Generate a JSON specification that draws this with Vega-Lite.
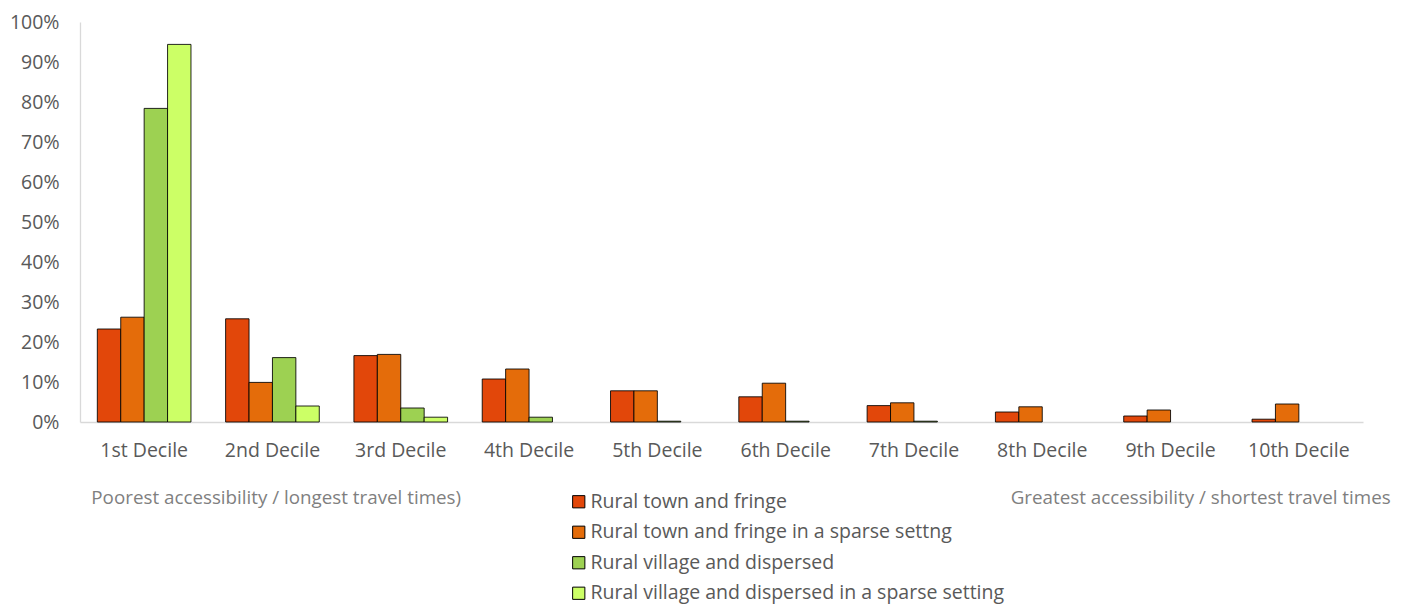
{
  "$schema": "https://vega.github.io/schema/vega-lite/v6.json",
  "width": 1283,
  "height": 400,
  "autosize": {"type": "none"},
  "padding": {"left": 80, "top": 22, "right": 44, "bottom": 183},
  "background": "#ffffff",
  "config": {
    "view": {"stroke": null},
    "font": "Open Sans",
    "axis": {"labelFont": "Open Sans", "labelColor": "#595959", "grid": false, "ticks": false, "tickSize": 0, "domainColor": "#D9D9D9", "domainWidth": 1.3, "title": null, "labelOverlap": false}
  },
  "encoding": {
    "x": {
      "field": "decile", "type": "nominal",
      "scale": {"domain": ["1st Decile", "2nd Decile", "3rd Decile", "4th Decile", "5th Decile", "6th Decile", "7th Decile", "8th Decile", "9th Decile", "10th Decile"], "paddingInner": 0.27, "paddingOuter": 0.135},
      "axis": {"labelAngle": 0, "labelPadding": 19, "labelFontSize": 19.5, "labelOverlap": false}
    }
  },
  "layer": [
    {
      "data": {
        "values": [
          {"decile": "1st Decile", "type": "Rural town and fringe", "share": 0.2325},
          {"decile": "1st Decile", "type": "Rural town and fringe in a sparse settng", "share": 0.262},
          {"decile": "1st Decile", "type": "Rural village and dispersed", "share": 0.784},
          {"decile": "1st Decile", "type": "Rural village and dispersed in a sparse setting", "share": 0.944},
          {"decile": "2nd Decile", "type": "Rural town and fringe", "share": 0.258},
          {"decile": "2nd Decile", "type": "Rural town and fringe in a sparse settng", "share": 0.099},
          {"decile": "2nd Decile", "type": "Rural village and dispersed", "share": 0.161},
          {"decile": "2nd Decile", "type": "Rural village and dispersed in a sparse setting", "share": 0.04},
          {"decile": "3rd Decile", "type": "Rural town and fringe", "share": 0.166},
          {"decile": "3rd Decile", "type": "Rural town and fringe in a sparse settng", "share": 0.169},
          {"decile": "3rd Decile", "type": "Rural village and dispersed", "share": 0.035},
          {"decile": "3rd Decile", "type": "Rural village and dispersed in a sparse setting", "share": 0.012},
          {"decile": "4th Decile", "type": "Rural town and fringe", "share": 0.1075},
          {"decile": "4th Decile", "type": "Rural town and fringe in a sparse settng", "share": 0.1325},
          {"decile": "4th Decile", "type": "Rural village and dispersed", "share": 0.012},
          {"decile": "5th Decile", "type": "Rural town and fringe", "share": 0.078},
          {"decile": "5th Decile", "type": "Rural town and fringe in a sparse settng", "share": 0.078},
          {"decile": "5th Decile", "type": "Rural village and dispersed", "share": 0.002},
          {"decile": "6th Decile", "type": "Rural town and fringe", "share": 0.063},
          {"decile": "6th Decile", "type": "Rural town and fringe in a sparse settng", "share": 0.097},
          {"decile": "6th Decile", "type": "Rural village and dispersed", "share": 0.002},
          {"decile": "7th Decile", "type": "Rural town and fringe", "share": 0.041},
          {"decile": "7th Decile", "type": "Rural town and fringe in a sparse settng", "share": 0.048},
          {"decile": "7th Decile", "type": "Rural village and dispersed", "share": 0.002},
          {"decile": "8th Decile", "type": "Rural town and fringe", "share": 0.025},
          {"decile": "8th Decile", "type": "Rural town and fringe in a sparse settng", "share": 0.038},
          {"decile": "9th Decile", "type": "Rural town and fringe", "share": 0.015},
          {"decile": "9th Decile", "type": "Rural town and fringe in a sparse settng", "share": 0.03},
          {"decile": "10th Decile", "type": "Rural town and fringe", "share": 0.007},
          {"decile": "10th Decile", "type": "Rural town and fringe in a sparse settng", "share": 0.045}
        ]
      },
      "mark": {"type": "bar", "stroke": "#000000", "strokeWidth": 1, "strokeOpacity": 0.85},
      "encoding": {
        "xOffset": {
          "field": "type", "type": "nominal",
          "scale": {"domain": ["Rural town and fringe", "Rural town and fringe in a sparse settng", "Rural village and dispersed", "Rural village and dispersed in a sparse setting"], "paddingInner": 0, "paddingOuter": 0}
        },
        "y": {
          "field": "share", "type": "quantitative",
          "scale": {"domain": [0, 1], "nice": false},
          "axis": {"values": [0, 0.1, 0.2, 0.3, 0.4, 0.5, 0.6, 0.7, 0.8, 0.9, 1], "format": ".0%", "labelPadding": 21, "labelFontSize": 19.5, "labelOverlap": false, "labelFlush": false}
        },
        "fill": {
          "field": "type", "type": "nominal",
          "scale": {
            "domain": ["Rural town and fringe", "Rural town and fringe in a sparse settng", "Rural village and dispersed", "Rural village and dispersed in a sparse setting"],
            "range": ["#E2470A", "#E46C0A", "#9DD152", "#CCFF66"]
          },
          "legend": {
            "title": null, "orient": "none", "legendX": 489, "legendY": 470,
            "padding": 0, "symbolType": "square", "symbolSize": 150, "symbolStrokeColor": "#000000", "symbolStrokeWidth": 1,
            "labelFont": "Open Sans", "labelFontSize": 19.5, "labelColor": "#595959", "labelOffset": 2, "rowPadding": 9.5, "labelLimit": 600
          }
        }
      }
    },
    {
      "data": {"values": [{"decile": "1st Decile", "note": "Poorest accessibility / longest travel times)"}]},
      "mark": {"type": "text", "align": "left", "baseline": "middle", "dx": -6, "fontSize": 18.8, "font": "Open Sans", "color": "#7F7F7F"},
      "encoding": {
        "x": {"field": "decile", "type": "nominal", "bandPosition": 0},
        "y": {"datum": -0.19, "type": "quantitative", "scale": {"domain": [0, 1], "nice": false},
          "axis": {"values": [0, 0.1, 0.2, 0.3, 0.4, 0.5, 0.6, 0.7, 0.8, 0.9, 1], "format": ".0%", "labelPadding": 21, "labelFontSize": 19.5, "labelOverlap": false, "labelFlush": false}},
        "text": {"field": "note"}
      }
    },
    {
      "data": {"values": [{"decile": "10th Decile", "note": "Greatest accessibility / shortest travel times"}]},
      "mark": {"type": "text", "align": "right", "baseline": "middle", "dx": 45, "fontSize": 18.8, "font": "Open Sans", "color": "#7F7F7F"},
      "encoding": {
        "x": {"field": "decile", "type": "nominal", "bandPosition": 1},
        "y": {"datum": -0.19, "type": "quantitative", "scale": {"domain": [0, 1], "nice": false},
          "axis": {"values": [0, 0.1, 0.2, 0.3, 0.4, 0.5, 0.6, 0.7, 0.8, 0.9, 1], "format": ".0%", "labelPadding": 21, "labelFontSize": 19.5, "labelOverlap": false, "labelFlush": false}},
        "text": {"field": "note"}
      }
    }
  ]
}
